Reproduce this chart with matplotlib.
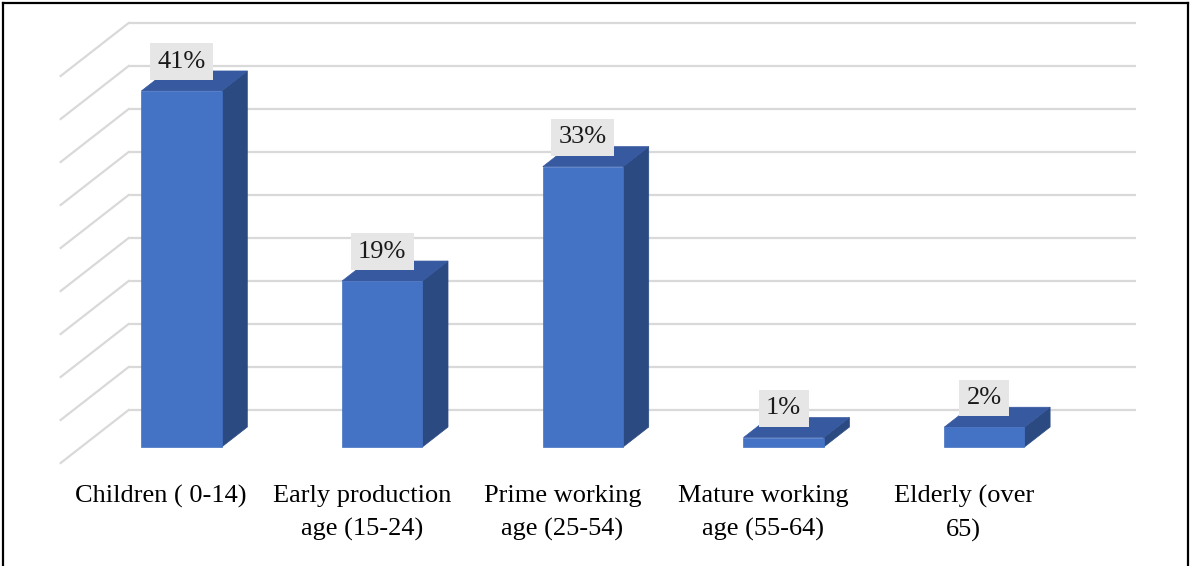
import matplotlib
matplotlib.use("Agg")
import matplotlib.pyplot as plt
from matplotlib.patches import Polygon
from matplotlib.lines import Line2D

categories = ["Children ( 0-14)", "Early production\nage (15-24)", "Prime working\nage (25-54)",
              "Mature working\nage (55-64)", "Elderly (over\n65)"]
values = [41.4, 19.3, 32.6, 1.1, 2.3]
labels = ["41%", "19%", "33%", "1%", "2%"]
grid_values = [0, 5, 10, 15, 20, 25, 30, 35, 40, 45]

W, H = 1190, 566
fig = plt.figure(figsize=(W / 100, H / 100), dpi=100)
ax = fig.add_axes([0, 0, 1, 1])
px_per_cat = 200.7
px_per_val = 8.6
x0_px, y0_px = 161, 463
ax.set_xlim(-x0_px / px_per_cat, (W - x0_px) / px_per_cat)
ax.set_ylim((y0_px - H) / px_per_val, y0_px / px_per_val)
ax.axis("off")

# depth offsets (full depth of the 3D box)
DX = 68 / px_per_cat
DV = 53 / px_per_val
floor_left, floor_right = -0.5, 4.52
d_front, d_back = 0.302, 0.679
half_w = 0.2

grid_col = "#D9D9D9"
for g in grid_values:
    ax.plot([floor_left + DX, floor_right + DX], [g + DV, g + DV], color=grid_col, lw=1.6, zorder=1,
            solid_capstyle="butt")
    ax.plot([floor_left, floor_left + DX], [g, g + DV], color=grid_col, lw=1.6, zorder=1)

front_col = "#4472C4"
top_col = "#3759A0"
side_col = "#2C4A82"

for i, v in enumerate(values):
    xf = i + d_front * DX
    vf = d_front * DV
    ox = (d_back - d_front) * DX
    ov = (d_back - d_front) * DV
    xl, xr = xf - half_w, xf + half_w
    vb, vt = vf, vf + v
    # side face
    ax.add_patch(Polygon([(xr, vb), (xr + ox, vb + ov), (xr + ox, vt + ov), (xr, vt)],
                         closed=True, facecolor=side_col, edgecolor=side_col, lw=0.5, zorder=3))
    # top face
    ax.add_patch(Polygon([(xl, vt), (xr, vt), (xr + ox, vt + ov), (xl + ox, vt + ov)],
                         closed=True, facecolor=top_col, edgecolor=top_col, lw=0.5, zorder=3))
    # front face
    ax.add_patch(Polygon([(xl, vb), (xr, vb), (xr, vt), (xl, vt)],
                         closed=True, facecolor=front_col, edgecolor=front_col, lw=0.5, zorder=4))
    ax.text(xf, vt + 3.4, labels[i], ha="center", va="center", fontsize=19,
            family="Liberation Serif", color="#1a1a1a", zorder=6,
            bbox=dict(boxstyle="square,pad=0.28", facecolor="#E7E6E6", edgecolor="none"))
    ax.text(i, -2.6, categories[i], ha="center", va="top", fontsize=19,
            family="Liberation Serif", color="#000000", linespacing=1.58)

# outer border (left, top, right)
bw = 1.6
fig.add_artist(Line2D([2.5 / W, 2.5 / W], [0, 1 - 2.5 / H], transform=fig.transFigure, color="black", lw=bw))
fig.add_artist(Line2D([2.5 / W, 1 - 2.5 / W], [1 - 2.5 / H, 1 - 2.5 / H], transform=fig.transFigure,
                      color="black", lw=bw))
fig.add_artist(Line2D([1 - 2.5 / W, 1 - 2.5 / W], [0, 1 - 2.5 / H], transform=fig.transFigure,
                      color="black", lw=bw))

fig.savefig("out.png", dpi=100)
